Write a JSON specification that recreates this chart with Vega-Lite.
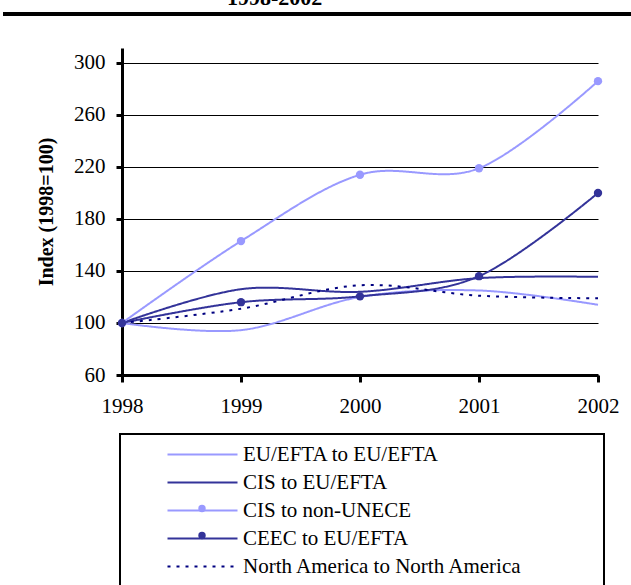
{
  "$schema": "https://vega.github.io/schema/vega-lite/v6.json",
  "autosize": "none",
  "width": 476,
  "height": 327,
  "padding": {"left": 122, "top": 48, "right": 33, "bottom": 210},
  "background": "white",
  "title": {"text": "1998-2002", "anchor": "start", "frame": "group", "offset": 0, "dx": 105, "dy": 14, "baseline": "alphabetic", "font": "Liberation Serif", "fontSize": 22, "fontWeight": "bold", "color": "black"},
  "config": {
    "view": {"stroke": null},
    "axis": {"domainColor": "black", "domainWidth": 3, "tickColor": "black", "tickWidth": 3, "tickSize": 6, "labelFont": "Liberation Serif", "labelFontSize": 21, "labelColor": "black", "titleFont": "Liberation Serif", "titleColor": "black"}
  },
  "datasets": {
    "trade": [
      {"series": "EU/EFTA to EU/EFTA", "year": 1998, "index": 100},
      {"series": "EU/EFTA to EU/EFTA", "year": 1999, "index": 94.5},
      {"series": "EU/EFTA to EU/EFTA", "year": 2000, "index": 120},
      {"series": "EU/EFTA to EU/EFTA", "year": 2001, "index": 125},
      {"series": "EU/EFTA to EU/EFTA", "year": 2002, "index": 114},
      {"series": "CIS to EU/EFTA", "year": 1998, "index": 100},
      {"series": "CIS to EU/EFTA", "year": 1999, "index": 126},
      {"series": "CIS to EU/EFTA", "year": 2000, "index": 124},
      {"series": "CIS to EU/EFTA", "year": 2001, "index": 134.5},
      {"series": "CIS to EU/EFTA", "year": 2002, "index": 135.5},
      {"series": "CIS to non-UNECE", "year": 1998, "index": 100},
      {"series": "CIS to non-UNECE", "year": 1999, "index": 163},
      {"series": "CIS to non-UNECE", "year": 2000, "index": 214},
      {"series": "CIS to non-UNECE", "year": 2001, "index": 219},
      {"series": "CIS to non-UNECE", "year": 2002, "index": 286},
      {"series": "CEEC to EU/EFTA", "year": 1998, "index": 100},
      {"series": "CEEC to EU/EFTA", "year": 1999, "index": 116},
      {"series": "CEEC to EU/EFTA", "year": 2000, "index": 120.5},
      {"series": "CEEC to EU/EFTA", "year": 2001, "index": 136},
      {"series": "CEEC to EU/EFTA", "year": 2002, "index": 200},
      {"series": "North America to North America", "year": 1998, "index": 100},
      {"series": "North America to North America", "year": 1999, "index": 111},
      {"series": "North America to North America", "year": 2000, "index": 129},
      {"series": "North America to North America", "year": 2001, "index": 121},
      {"series": "North America to North America", "year": 2002, "index": 119}
    ]
  },
  "data": {"name": "trade"},
  "layer": [
    {
      "mark": {"type": "line", "interpolate": "cardinal", "strokeWidth": 2},
      "encoding": {
        "x": {"field": "year", "type": "quantitative", "scale": {"domain": [1998, 2002], "nice": false, "zero": false},
              "axis": {"values": [1998, 1999, 2000, 2001, 2002], "format": "d", "title": null, "grid": false, "tickSize": 7, "labelPadding": 13, "labelFlush": false, "labelFont": "Liberation Serif", "labelFontSize": 21}},
        "y": {"field": "index", "type": "quantitative", "scale": {"domain": [60, 311.5], "nice": false, "zero": false},
              "axis": {"values": [60, 100, 140, 180, 220, 260, 300], "title": "Index (1998=100)", "titleFont": "Liberation Serif", "titleFontSize": 20, "titleFontWeight": "bold", "titlePadding": 17, "labelPadding": 11, "labelFont": "Liberation Serif", "labelFontSize": 21, "grid": true, "gridColor": "black", "gridWidth": 1, "gridOpacity": 1}},
        "color": {"field": "series", "type": "nominal",
          "scale": {"domain": ["EU/EFTA to EU/EFTA", "CIS to EU/EFTA", "CIS to non-UNECE", "CEEC to EU/EFTA", "North America to North America"],
                    "range": ["#9999FF", "#333399", "#9999FF", "#333399", "#000080"]},
          "legend": {"title": " ", "titleOrient": "right", "titlePadding": 71, "titleFontSize": 11, "orient": "none", "legendX": -2, "legendY": 386, "padding": 10, "columns": 1, "strokeColor": "black",
            "symbolSize": 100, "symbolType": "M-7,0L7,0", "symbolStrokeWidth": 2, "symbolOffset": 62, "labelOffset": 30, "rowPadding": 6, "labelFont": "Liberation Serif", "labelFontSize": 21, "labelColor": "black", "labelLimit": 600,
            "encode": {"legend": {"update": {"strokeWidth": {"value": 2}}}}}},
        "strokeDash": {"field": "series", "type": "nominal",
          "scale": {"domain": ["EU/EFTA to EU/EFTA", "CIS to EU/EFTA", "CIS to non-UNECE", "CEEC to EU/EFTA", "North America to North America"],
                    "range": [[1, 0], [1, 0], [1, 0], [1, 0], [3, 6]]}}
      }
    },
    {
      "transform": [{"filter": "indexof(['CIS to non-UNECE','CEEC to EU/EFTA'], datum.series) >= 0"}],
      "mark": {"type": "point", "filled": true, "size": 70, "opacity": 1},
      "encoding": {
        "x": {"field": "year", "type": "quantitative"},
        "y": {"field": "index", "type": "quantitative"},
        "fill": {"field": "series", "type": "nominal",
          "scale": {"domain": ["CIS to non-UNECE", "CEEC to EU/EFTA"], "range": ["#9999FF", "#333399"]},
          "legend": {"title": null, "orient": "none", "legendX": 76, "legendY": 456.5, "padding": 0, "symbolType": "circle", "symbolSize": 55, "symbolStrokeWidth": 0, "symbolOffset": 0, "labelExpr": "''", "labelFontSize": 8, "rowPadding": 19}}
      }
    },
    {
      "mark": {"type": "rule", "color": "black", "strokeWidth": 3},
      "encoding": {
        "x": {"datum": 1997.0},
        "x2": {"datum": 2002.4},
        "y": {"datum": 337.6}
      }
    }
  ]
}
